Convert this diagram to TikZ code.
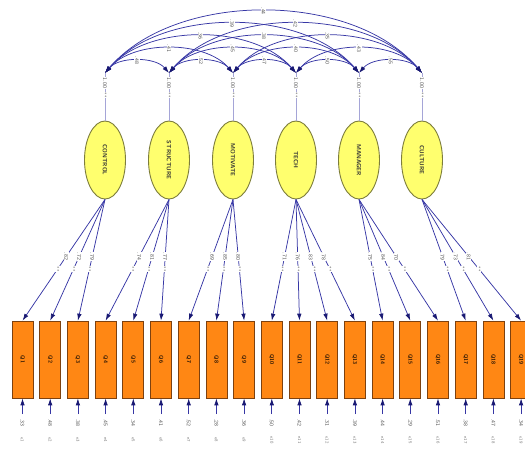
\documentclass[tikz,border=0pt]{standalone}
\usepackage{graphicx}
\usetikzlibrary{shapes.geometric,arrows.meta}
\definecolor{pathblue}{RGB}{55,55,165}
\definecolor{tipblue}{RGB}{25,25,115}
\definecolor{latentfill}{RGB}{255,255,110}
\definecolor{latentdraw}{RGB}{125,125,60}
\definecolor{itemfill}{RGB}{255,135,20}
\definecolor{itemdraw}{RGB}{125,65,15}
\definecolor{labelgray}{RGB}{80,80,80}
\begin{document}
\begin{tikzpicture}[x=1pt,y=-1pt,
  latent/.style={ellipse,draw=latentdraw,line width=0.9pt,fill=latentfill,
    minimum width=41pt,minimum height=78pt,inner sep=0pt,
    font=\fontsize{6}{6}\sffamily\bfseries,text=black!80},
  item/.style={rectangle,draw=itemdraw,line width=0.7pt,fill=itemfill,
    minimum width=21pt,minimum height=77pt,inner sep=0pt,
    font=\fontsize{5.5}{5.5}\sffamily\bfseries,text=black!70!itemdraw},
  path/.style={draw=pathblue,line width=0.75pt,
    -{Latex[length=7pt,width=4.5pt,color=tipblue]}},
  cov/.style={draw=pathblue,line width=0.75pt,
    {Latex[length=7pt,width=4.5pt,color=tipblue]}-{Latex[length=7pt,width=4.5pt,color=tipblue]}},
  est/.style={font=\fontsize{5.5}{5.5}\sffamily,text=labelgray,rotate=-90,
    fill=white,inner sep=0.6pt},
  tag/.style={font=\fontsize{4.5}{4.5}\sffamily,text=labelgray!75,rotate=-90,
    fill=white,inner sep=0.5pt},
  stem/.style={draw=pathblue!45,line width=0.5pt}
]
\useasboundingbox (0,0) rectangle (525,451);

% latent factors and the points where their covariances meet
\foreach \i/\x/\name in {1/105/CONTROL,2/169/STRUCTURE,3/233/MOTIVATE,
                         4/296/TECH,5/359/MANAGER,6/422/CULTURE}{
  \node[latent] (l\i) at (\x,160) {\rotatebox{-90}{\name}};
  \coordinate (t\i) at (\x,73);
  \draw[stem] (t\i) -- (l\i.north);
  \node[est] at (\x,83) {1.00};
  \node[tag] at (\x,95) {**};
}

% covariances between the factors
\foreach \i/\j/\v in {1/2/.48,2/3/.52,3/4/.47,4/5/.50,5/6/.55,
                      1/3/.41,2/4/.45,3/5/.40,4/6/.43,
                      1/4/.36,2/5/.38,3/6/.35,
                      1/5/.39,2/6/.42,
                      1/6/.44}{
  \pgfmathsetmacro\h{16.5*(\j-\i)}
  \pgfmathsetmacro\dx{14*(\j-\i)}
  \draw[cov] (t\i) .. controls ([shift={(\dx,-\h)}]t\i) and ([shift={(-\dx,-\h)}]t\j) .. (t\j)
    node[pos=.5,est] {\v};
}

% observed items with loadings and error terms
\foreach \j/\l/\v/\e in {1/1/.82/.33,2/1/.72/.48,3/1/.79/.38,
                         4/2/.74/.45,5/2/.81/.34,6/2/.77/.41,
                         7/3/.69/.52,8/3/.85/.28,9/3/.80/.36,
                         10/4/.71/.50,11/4/.76/.42,12/4/.83/.31,13/4/.78/.39,
                         14/5/.75/.44,15/5/.84/.29,16/5/.70/.51,
                         17/6/.79/.38,18/6/.73/.47,19/6/.81/.34}{
  \pgfmathsetmacro\bx{22.5+27.7*(\j-1)}
  \node[item] (q\j) at (\bx,359.5) {\rotatebox{-90}{Q\j}};
  \draw[path] (l\l.south) -- (q\j.north)
    node[pos=.47,est] {\v} node[pos=.575,tag] {**};
  \coordinate (e\j) at (\bx,414);
  \draw[path] (e\j) -- (q\j.south);
  \node[est] at (\bx,423) {\e};
  \node[tag] at (\bx,440) {e\j};
}
\end{tikzpicture}
\end{document}
